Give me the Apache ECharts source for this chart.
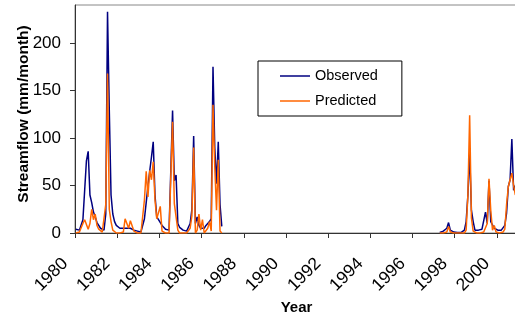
<!DOCTYPE html>
<html>
<head>
<meta charset="utf-8">
<script src="https://cdn.jsdelivr.net/npm/echarts@6/dist/echarts.min.js"></script>
<style>
  html, body { margin: 0; padding: 0; background: #fff; }
  #chart { width: 515px; height: 315px; }
</style>
</head>
<body>
<div id="chart"></div>
<script>
// monthly streamflow (mm/month), Jan 1980 - Dec 1986
const observed1980s = [
  4, 3, 3, 4, 14, 45, 76, 86, 40, 32, 22, 17,
  11, 8, 5, 3, 3, 20, 233, 130, 40, 20, 12, 8,
  6, 5, 5, 5, 5, 5, 5, 5, 4, 3, 3, 2,
  1, 1, 2, 15, 32, 49, 65, 80, 96, 40, 17, 14,
  12, 8, 6, 4, 3, 3, 5, 129, 55, 61, 10, 6,
  4, 3, 2, 2, 4, 10, 25, 102, 10, 17, 8, 5,
  3, 5, 8, 10, 12, 15, 175, 90, 52, 96, 30, 7
]
const predicted1980s = [
  0, 0, 1, 3, 10, 14, 12, 4, 10, 25, 14, 20,
  8, 4, 2, 1, 0, 30, 168, 25, 12, 3, 1, 0,
  0, 0, 0, 1, 15, 13, 5, 13, 12, 2, 1, 0,
  0, 0, 2, 35, 65, 38, 66, 56, 75, 35, 15, 14,
  28, 2, 0, 0, 0, 0, 2, 117, 31, 31, 3, 0,
  0, 0, 0, 0, 0, 5, 18, 90, 0, 3, 20, 3,
  14, 0, 2, 5, 12, 2, 135, 70, 24, 77, 2, 0
]
// Apr 1997 - Nov 2000
const observed1997on = [
  0.5, 1, 2, 3, 5, 11, 3, 2, 1,
  1, 0.5, 0.5, 0.5, 1, 3, 12, 40, 85, 24, 12, 3, 3,
  3, 3, 4, 4, 22, 10, 55, 12, 10, 5, 3, 3,
  3, 3, 5, 8, 21, 49, 56, 99, 45, 50
]
const predicted1997on = [
  0, 0, 0, 0, 1, 7, 1, 0, 0,
  0, 0, 0, 0, 0, 0, 3, 40, 124, 16, 2, 0, 0,
  0, 0, 0, 1, 2, 10, 57, 24, 3, 8, 1, 0,
  0, 0, 1, 4, 30, 49, 56, 63, 50, 40
]
const startYear = 1980
const secondStartMonth = 207 // Apr 1997, months after Jan 1980

const toPoints = (first, second) => {
  const pts = []
  first.forEach((v, i) => pts.push([startYear + (i + 0.5) / 12, v]))
  pts.push([startYear + (first.length + 1) / 12, '-']) // gap in record
  second.forEach((v, i) => pts.push([startYear + (secondStartMonth + i + 0.5) / 12, v]))
  return pts
}

const font = '"Liberation Sans", Arial, sans-serif'
const chart = echarts.init(document.getElementById('chart'), null, { renderer: 'canvas' })

chart.setOption({
  animation: false,
  grid: {
    left: 75, right: -3, top: 5, bottom: 82,
    outerBoundsMode: 'none', containLabel: false,
    show: true, borderColor: '#888', borderWidth: 1
  },
  legend: {
    orient: 'vertical', left: 258, top: 61,
    borderColor: '#000', borderWidth: 1,
    padding: [7, 24, 7, 22], itemGap: 9,
    itemWidth: 30, itemHeight: 1.5, icon: 'rect',
    textStyle: { fontSize: 14.5, color: '#000', fontFamily: font, lineHeight: 16 }
  },
  xAxis: {
    type: 'value', min: 1980, max: 2001, interval: 2,
    name: 'Year', nameLocation: 'middle', nameGap: 67, nameMoveOverlap: false,
    nameTextStyle: { fontSize: 15, fontWeight: 'bold', color: '#000', fontFamily: font },
    axisLine: { lineStyle: { color: '#333', width: 1 } },
    axisTick: { length: 5, lineStyle: { color: '#333' } },
    axisLabel: {
      rotate: 45, margin: 18, padding: [0, 14, 0, 0], fontSize: 17.5, color: '#000', fontFamily: font,
      showMaxLabel: false, formatter: v => String(Math.round(v))
    },
    splitLine: { show: false }
  },
  yAxis: {
    type: 'value', min: 0, max: 240, interval: 50,
    name: 'Streamflow (mm/month)', nameLocation: 'middle', nameGap: 43, nameMoveOverlap: false,
    nameTextStyle: { fontSize: 15.5, fontWeight: 'bold', color: '#000', fontFamily: font, padding: [0, 0, 0, 10] },
    axisLine: { show: true, lineStyle: { color: '#333', width: 1 } },
    axisTick: { show: true, length: 5, lineStyle: { color: '#333' } },
    axisLabel: { margin: 14, fontSize: 17, color: '#000', fontFamily: font, showMaxLabel: false },
    splitLine: { show: false }
  },
  series: [
    {
      name: 'Observed', type: 'line', showSymbol: false, connectNulls: false,
      data: toPoints(observed1980s, observed1997on),
      lineStyle: { color: '#000080', width: 1.5 }, itemStyle: { color: '#000080' }
    },
    {
      name: 'Predicted', type: 'line', showSymbol: false, connectNulls: false,
      data: toPoints(predicted1980s, predicted1997on),
      lineStyle: { color: '#ff6600', width: 1.5 }, itemStyle: { color: '#ff6600' }
    }
  ]
})
</script>
</body>
</html>
